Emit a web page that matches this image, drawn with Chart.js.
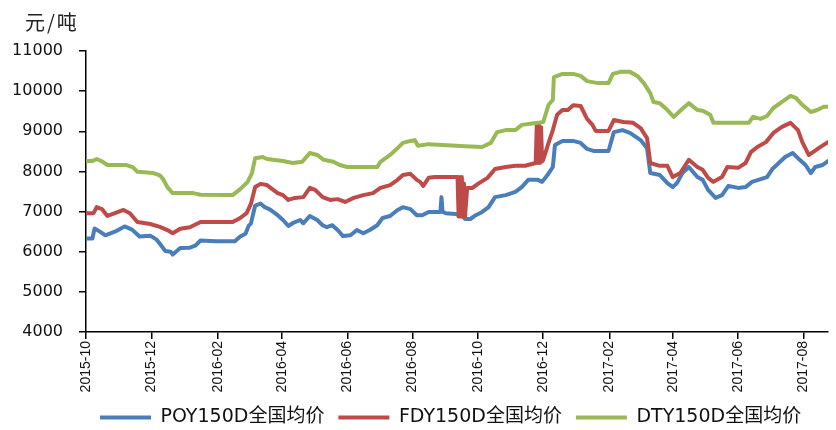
<!DOCTYPE html>
<html>
<head>
<meta charset="utf-8">
<title>POY/FDY/DTY 150D 全国均价</title>
<script src="https://cdn.jsdelivr.net/npm/chart.js@4.4.1/dist/chart.umd.min.js"></script>
<style>
  html, body { margin: 0; padding: 0; background: #fff; }
</style>
</head>
<body>
<canvas id="myChart" width="836" height="430"></canvas>
<script>
// days counted from startDate, prices in 元/吨
const startDate = '2015-10-01';
const endDay = 693;

const poyDays = [0,6,8,13,18,27,36,43,50,60,66,69,74,79,81,88,97,102,107,121,139,144,149,152,154,158,163,167,172,179,184,189,193,200,203,209,216,221,225,230,235,240,247,253,259,265,272,277,284,291,296,303,309,314,320,331,332,333,336,345,351,354,359,364,370,376,382,392,401,407,413,422,426,431,436,438,445,455,462,468,474,488,493,501,508,518,524,527,536,543,548,552,557,563,571,576,581,588,594,600,609,616,622,628,636,641,647,653,660,665,672,677,681,688,693];
const poyPrices = [6330,6330,6580,6500,6410,6500,6630,6550,6380,6400,6300,6200,6020,6000,5930,6090,6100,6150,6280,6260,6260,6380,6450,6650,6700,7150,7200,7110,7050,6910,6790,6640,6710,6790,6710,6890,6790,6660,6610,6660,6540,6390,6410,6540,6460,6540,6660,6840,6890,7040,7110,7060,6910,6910,6990,6990,7360,6990,6960,6940,6910,6815,6815,6910,6990,7110,7360,7410,7490,7610,7790,7790,7740,7910,8110,8660,8760,8760,8710,8560,8510,8510,8980,9030,8960,8780,8580,7960,7910,7710,7610,7710,7960,8110,7860,7790,7540,7340,7410,7640,7590,7610,7740,7790,7860,8060,8210,8360,8460,8330,8160,7960,8110,8160,8260];

const fdyDays = [0,7,10,15,20,27,35,41,48,60,69,76,81,88,97,107,137,144,150,154,158,163,169,179,184,189,195,203,209,214,221,228,235,242,250,259,268,275,284,291,296,303,309,312,315,320,326,347,348,349,350,351,352,353,354,356,361,366,375,382,392,401,410,420,421,422,423,424,425,426,427,432,436,440,445,450,455,462,468,473,476,488,493,502,511,518,524,527,536,543,548,555,563,571,576,581,586,594,599,609,616,621,627,635,642,650,658,665,669,675,679,686,693];
const fdyPrices = [6960,6960,7110,7060,6890,6960,7040,6960,6740,6690,6620,6540,6460,6570,6610,6740,6740,6840,6960,7190,7610,7690,7660,7460,7410,7290,7340,7360,7590,7540,7360,7290,7310,7240,7340,7410,7460,7590,7660,7790,7910,7940,7790,7740,7640,7840,7860,7860,6880,7860,6880,7860,6880,7700,6880,7590,7590,7690,7840,8060,8110,8140,8140,8210,9150,8210,9150,8210,9100,8250,8290,8710,9030,9410,9530,9530,9650,9630,9310,9160,9010,9010,9280,9230,9210,9080,8830,8210,8140,8140,7860,7960,8290,8110,8040,7840,7740,7860,8110,8090,8210,8480,8610,8730,8960,9110,9210,9030,8730,8410,8480,8610,8730];

const dtyDays = [0,6,10,15,20,38,44,48,63,69,72,76,81,100,107,137,144,151,155,158,165,169,184,193,202,209,216,222,231,237,244,272,275,284,291,296,303,307,310,320,333,354,370,378,384,392,401,407,422,427,432,436,437,445,455,462,468,478,488,492,499,508,515,521,527,530,536,543,549,557,563,571,576,583,586,619,623,630,636,642,650,658,663,669,677,683,689,693];
const dtyPrices = [8260,8260,8310,8250,8160,8160,8100,7990,7960,7900,7810,7610,7460,7460,7420,7410,7560,7740,7960,8330,8360,8310,8260,8210,8240,8460,8410,8290,8240,8160,8110,8110,8240,8410,8580,8710,8760,8780,8640,8680,8660,8630,8610,8710,8980,9030,9030,9160,9210,9230,9660,9780,10350,10430,10430,10380,10250,10200,10200,10430,10480,10480,10380,10200,9950,9730,9700,9530,9360,9560,9700,9530,9510,9410,9210,9210,9360,9310,9380,9580,9730,9880,9830,9660,9480,9530,9610,9610];

const tickLabels = ['2015-10','2015-12','2016-02','2016-04','2016-06','2016-08','2016-10','2016-12','2017-02','2017-04','2017-06','2017-08'];
const seriesNames = ['POY150D全国均价','FDY150D全国均价','DTY150D全国均价'];

function dayOf(ym) {
  const p = ym.split('-');
  const s = startDate.split('-');
  return Math.round((Date.UTC(+p[0], +p[1] - 1, p[2] ? +p[2] : 1) - Date.UTC(+s[0], +s[1] - 1, +s[2])) / 86400000);
}
const tickDays = tickLabels.map(dayOf);

function toPoints(days, prices) {
  return days.map((d, i) => ({x: d, y: prices[i]}));
}

const lineStyle = {
  borderWidth: 4,
  pointRadius: 0,
  tension: 0,
  borderJoinStyle: 'round',
  borderCapStyle: 'round'
};

const unitLabel = {
  id: 'unitLabel',
  afterDraw(chart) {
    const c = chart.ctx;
    c.save();
    c.font = '20px "Noto Sans CJK SC"';
    c.fillStyle = '#222';
    c.textBaseline = 'middle';
    if ('letterSpacing' in c) c.letterSpacing = '2px';
    c.fillText('元/吨', 25, 22);
    c.restore();
  }
};

const ctx = document.getElementById('myChart');

new Chart(ctx, {
  type: 'line',
  data: {
    datasets: [
      Object.assign({label: seriesNames[0], data: toPoints(poyDays, poyPrices), borderColor: '#4A7EBB', backgroundColor: '#4A7EBB', order: 3}, lineStyle),
      Object.assign({label: seriesNames[1], data: toPoints(fdyDays, fdyPrices), borderColor: '#BE4B48', backgroundColor: '#BE4B48', order: 2}, lineStyle),
      Object.assign({label: seriesNames[2], data: toPoints(dtyDays, dtyPrices), borderColor: '#98B954', backgroundColor: '#98B954', order: 1}, lineStyle)
    ]
  },
  options: {
    responsive: false,
    animation: false,
    layout: {padding: {left: 0, right: 8, top: 51, bottom: 0}},
    plugins: {
      tooltip: {enabled: false},
      legend: {
        position: 'bottom',
        align: 'start',
        fullSize: false,
        maxHeight: 36,
        labels: {
          color: '#111',
          font: {size: 19, family: '"DejaVu Sans", "Noto Sans CJK SC"'},
          boxWidth: 51,
          boxHeight: 4,
          padding: 14,
          sort: (a, b) => a.datasetIndex - b.datasetIndex,
          generateLabels: chart => Chart.defaults.plugins.legend.labels.generateLabels(chart).map(l => Object.assign(l, {lineWidth: 0}))
        }
      }
    },
    scales: {
      x: {
        type: 'linear',
        min: 0,
        max: endDay,
        afterBuildTicks: scale => { scale.ticks = tickDays.map(v => ({value: v})); },
        afterFit: scale => { scale.height = 62; },
        ticks: {
          autoSkip: false,
          maxRotation: 90,
          minRotation: 90,
          padding: 2,
          color: '#111',
          font: {size: 14, family: '"Liberation Sans"'},
          callback: v => tickLabels[tickDays.indexOf(v)]
        },
        grid: {drawOnChartArea: false, drawTicks: true, tickLength: 7, color: '#000', lineWidth: 1.5},
        border: {display: true, color: '#000', width: 1.5}
      },
      y: {
        min: 4000,
        max: 11000,
        afterFit: scale => { scale.width = 86; },
        ticks: {
          stepSize: 1000,
          padding: 16,
          color: '#111',
          font: {size: 16, family: '"DejaVu Sans"'},
          callback: v => String(v)
        },
        grid: {drawOnChartArea: false, drawTicks: true, tickLength: 7, color: '#000', lineWidth: 1.5},
        border: {display: true, color: '#000', width: 1.5}
      }
    }
  },
  plugins: [unitLabel]
});
</script>
</body>
</html>
